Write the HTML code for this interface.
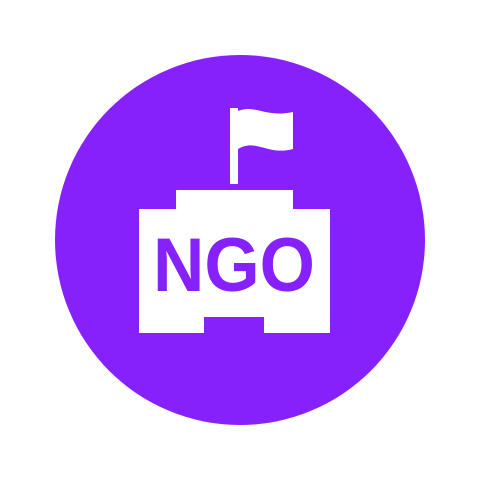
<!DOCTYPE html>
<html><head><meta charset="utf-8"><style>html,body{margin:0;padding:0;background:#fff;}svg{display:block;}</style></head>
<body>
<svg width="500" height="500" viewBox="0 0 500 500">
  <circle cx="240" cy="240" r="185" fill="#8721fb"/>
  <rect x="230" y="108" width="8" height="76" fill="#fff"/>
  <path d="M238,111 C255,104 265,118 293,112 L293,149 C268,156 256,138 238,149 Z" fill="#fff"/>
  <path d="M176,190 L293,190 L293,209 L330,209 L330,333 L264,333 L264,317 L204,317 L204,333 L139,333 L139,209 L176,209 Z" fill="#fff"/>
  <text x="153" y="291" font-family="Liberation Sans, Arial, sans-serif" font-weight="bold" font-size="76" fill="#8721fb" textLength="162" lengthAdjust="spacingAndGlyphs">NGO</text>
</svg>
</body></html>
